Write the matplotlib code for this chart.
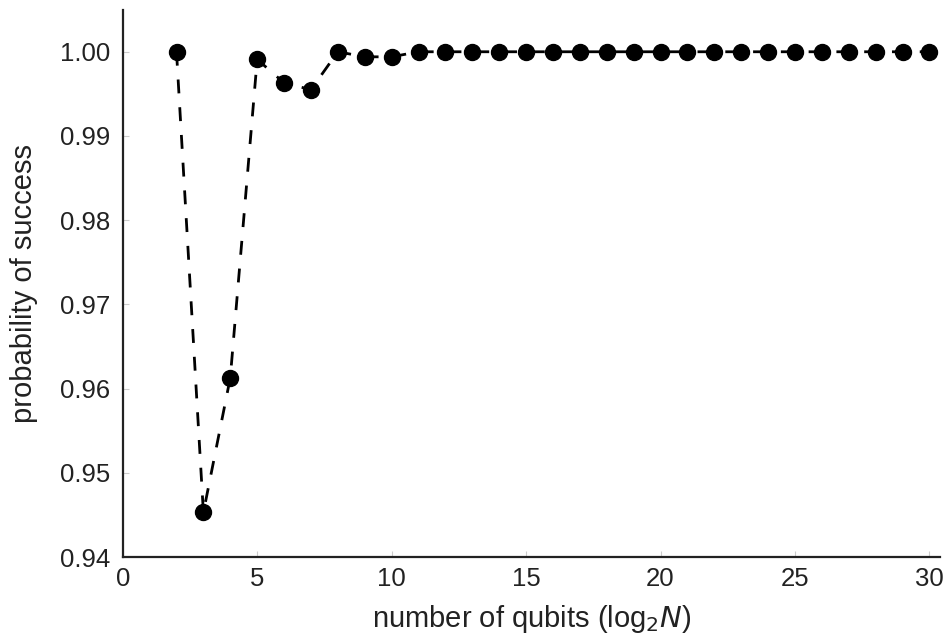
import numpy as np
import matplotlib.pyplot as plt

plt.rcParams['font.family'] = ['Liberation Sans', 'DejaVu Sans']

# number of qubits and success probability
qubits = list(range(2, 31))
prob = [1.0000, 0.9453, 0.9613, 0.9991, 0.9963, 0.9955, 1.0000, 0.9994, 0.9994] + [1.0000] * 20

fig = plt.figure(figsize=(9.44, 6.44), dpi=100)
ax = fig.add_axes([0.130, 0.135, 0.866, 0.85])

ax.plot(qubits, prob, color='black', linestyle=(0, (5, 5)), linewidth=2.0,
        marker='o', markersize=11.5)

ax.set_xlim(0, 30.4)
ax.set_ylim(0.94, 1.005)
ax.set_xticks([0, 5, 10, 15, 20, 25, 30])
ax.set_yticks([0.94, 0.95, 0.96, 0.97, 0.98, 0.99, 1.00])
ax.set_yticklabels(['0.94', '0.95', '0.96', '0.97', '0.98', '0.99', '1.00'])

ax.spines['top'].set_visible(False)
ax.spines['right'].set_visible(False)
for s in ['left', 'bottom']:
    ax.spines[s].set_linewidth(1.6)
    ax.spines[s].set_color('#222222')

ax.tick_params(direction='in', length=4, width=0.8, color='#cccccc',
               labelsize=18.5, labelcolor='#222222')
ax.tick_params(axis='y', pad=9)
ax.tick_params(axis='x', pad=7)

ax.set_xlabel('number of qubits (log$_2$$\\mathit{N}$)', fontsize=21, color='#222222', labelpad=9)
ax.set_ylabel('probability of success', fontsize=21, color='#222222', labelpad=16)

fig.savefig('out.png', dpi=100)
